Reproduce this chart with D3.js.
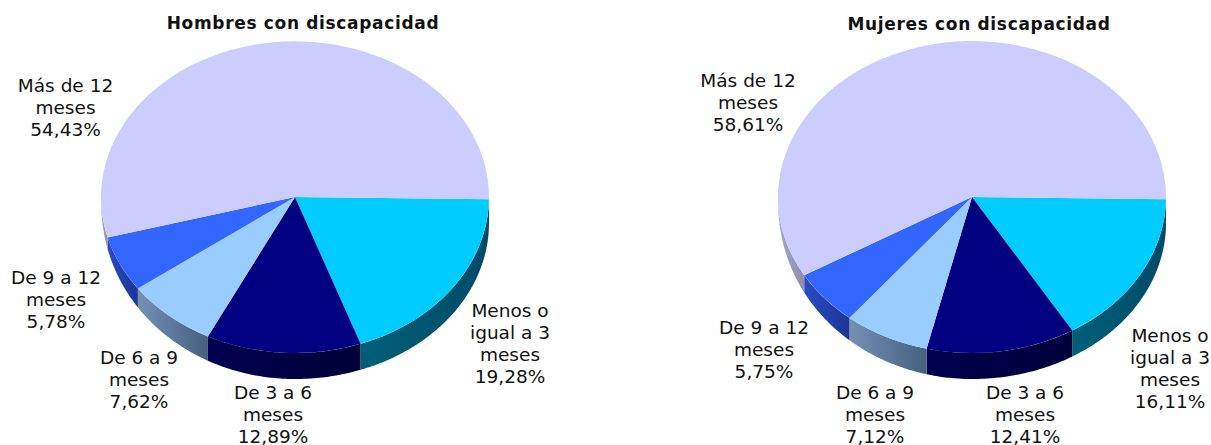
<!DOCTYPE html>
<html>
<head>
<meta charset="utf-8">
<script src="https://cdn.jsdelivr.net/npm/d3@7"></script>
<style>
  html, body { margin: 0; background: #fff; }
  text { font-family: "DejaVu Sans", sans-serif; fill: #111; }
  .label { font-size: 18.5px; }
  .title { font-size: 17px; font-weight: bold; letter-spacing: 0.67px; }
</style>
</head>
<body>
<svg id="chart" width="1211" height="445"></svg>
<script>
const categories = ['Menos o igual a 3 meses', 'De 3 a 6 meses', 'De 6 a 9 meses', 'De 9 a 12 meses', 'Más de 12 meses'];
const hombres = [19.28, 12.89, 7.62, 5.78, 54.43];
const mujeres = [16.11, 12.41, 7.12, 5.75, 58.61];

const labelLines = [
  ['Menos o', 'igual a 3', 'meses'],
  ['De 3 a 6', 'meses'],
  ['De 6 a 9', 'meses'],
  ['De 9 a 12', 'meses'],
  ['Más de 12', 'meses']
];

const topColors = ['#00ccff', '#000080', '#99ccff', '#3366ff', '#ccccff'];
// side wall, left end and right end of each slice
const wallColors = [
  ['#006078', '#004a66'],
  ['#000050', '#000038'],
  ['#7490b4', '#46607e'],
  ['#2a4cc4', '#1c3494'],
  ['#a8a8cc', '#8c8cac']
];

const rx = 194;
const ry = 156;
const depth = 26;
// the original pies are turned about one degree clockwise
const turn = 0.015;

const svg = d3.select('#chart');
const defs = svg.append('defs');

wallColors.forEach((c, i) => {
  const grad = defs.append('linearGradient').attr('id', 'wall' + i);
  grad.append('stop').attr('offset', '0%').attr('stop-color', c[0]);
  grad.append('stop').attr('offset', '100%').attr('stop-color', c[1]);
});

const pie = d3.pie().sort(null).startAngle(Math.PI / 2 + turn).endAngle(Math.PI * 2.5 + turn);
const arc = d3.arc().innerRadius(0).outerRadius(1);

// d3 angles: 0 at twelve o'clock, clockwise
const px = a => rx * Math.sin(a);
const py = a => -ry * Math.cos(a);
// the rim gets thinner towards the left side of the pie
const rim = a => a <= Math.PI ? depth : depth * Math.pow(Math.max(0, -Math.cos(a)), 0.6);

function drawPie(values, cx, cy, title, titleX, titleY, labelAt) {
  const g = svg.append('g').attr('transform', `translate(${cx},${cy})`);
  const slices = pie(values);

  const wall = d3.area().x(px).y0(py).y1(a => py(a) + rim(a));
  slices.forEach((d, i) => {
    // only the front half of the rim shows
    const from = Math.max(d.startAngle, Math.PI / 2);
    const to = Math.min(d.endAngle, Math.PI * 1.5);
    if (to <= from) return;
    g.append('path')
      .attr('d', wall(d3.range(from, to, 0.01).concat(to)))
      .attr('fill', `url(#wall${i})`);
  });

  g.append('g')
    .attr('transform', `scale(${rx},${ry})`)
    .selectAll('path')
    .data(slices)
    .enter().append('path')
      .attr('d', arc)
      .attr('fill', (d, i) => topColors[i]);

  svg.append('text')
    .attr('class', 'title')
    .attr('x', titleX)
    .attr('y', titleY)
    .attr('text-anchor', 'middle')
    .attr('dominant-baseline', 'central')
    .text(title);

  values.forEach((v, i) => {
    const lines = labelLines[i].concat(v.toFixed(2).replace('.', ',') + '%');
    const t = svg.append('text')
      .attr('class', 'label')
      .attr('text-anchor', 'middle');
    lines.forEach((line, j) => {
      t.append('tspan')
        .attr('x', labelAt[i][0])
        .attr('y', labelAt[i][1] + j * 22)
        .attr('dominant-baseline', 'central')
        .text(line);
    });
  });
}

drawPie(hombres, 295, 197, 'Hombres con discapacidad', 303, 23,
  [[510, 310], [273, 392], [139, 357], [56, 277], [65.5, 85]]);
drawPie(mujeres, 972, 197, 'Mujeres con discapacidad', 979, 24,
  [[1170, 335], [1025, 392], [875, 392], [764, 327], [748, 80]]);
</script>
</body>
</html>
